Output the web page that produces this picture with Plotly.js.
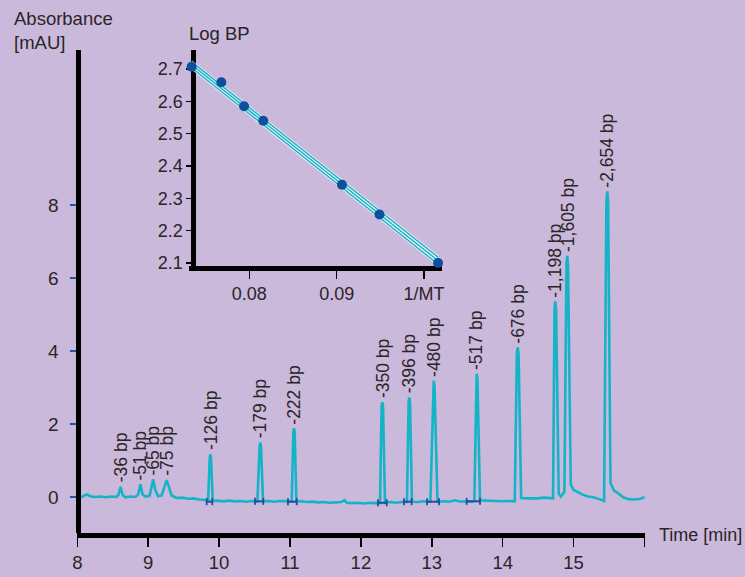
<!DOCTYPE html>
<html>
<head>
<meta charset="utf-8">
<script src="https://cdn.plot.ly/plotly-3.0.1.min.js"></script>
<style>
html, body { margin: 0; padding: 0; background: #cab9db; }
#chart { width: 745px; height: 577px; }
</style>
</head>
<body>
<div id="chart"></div>
<script>
// ---- Electropherogram trace (time in min, absorbance in mAU) ----
const timeMin = [
  8.00, 8.05, 8.10, 8.14, 8.18, 8.25, 8.32, 8.40, 8.48, 8.55,
  8.58, 8.61, 8.64, 8.68, 8.75, 8.82, 8.86, 8.89, 8.92, 8.96,
  9.02, 9.05, 9.07, 9.10, 9.14, 9.19, 9.22, 9.26, 9.29, 9.33,
  9.40, 9.48, 9.56, 9.64, 9.72, 9.80, 9.845, 9.868, 9.876, 9.886, 9.91,
  9.98, 10.06, 10.14, 10.22, 10.30, 10.38, 10.46, 10.54, 10.572, 10.581, 10.591, 10.62,
  10.70, 10.78, 10.86, 10.94, 11.025, 11.047, 11.056, 11.066, 11.09,
  11.16, 11.24, 11.32, 11.40, 11.48, 11.56, 11.64, 11.72, 11.77, 11.80,
  11.88, 11.96, 12.04, 12.12, 12.20, 12.27, 12.292, 12.302, 12.312, 12.34,
  12.42, 12.50, 12.58, 12.65, 12.673, 12.683, 12.693, 12.72,
  12.80, 12.88, 12.98, 13.016, 13.027, 13.038, 13.08,
  13.16, 13.24, 13.33, 13.40, 13.48, 13.56, 13.60, 13.623, 13.633, 13.644, 13.68,
  13.76, 13.84, 13.92, 14.00, 14.08, 14.17, 14.200, 14.212, 14.224, 14.26,
  14.34, 14.42, 14.50, 14.58, 14.64, 14.71, 14.731, 14.742, 14.753, 14.79,
  14.82, 14.87, 14.900, 14.911, 14.922, 14.96, 15.00, 15.05, 15.12, 15.20,
  15.28, 15.36, 15.43, 15.463, 15.475, 15.487, 15.52, 15.57, 15.62, 15.70,
  15.78, 15.86, 15.94, 16.00
];
const absorbance = [
  0.02, 0.00, 0.05, 0.08, 0.03, 0.01, 0.02, 0.00, 0.02, 0.01,
  0.06, 0.29, 0.06, 0.00, 0.02, 0.01, 0.08, 0.36, 0.08, 0.02,
  0.04, 0.30, 0.49, 0.20, 0.03, 0.05, 0.25, 0.47, 0.30, 0.05,
  -0.02, -0.01, -0.04, -0.03, -0.06, -0.07, -0.08, 1.08, 1.18, 1.06, -0.10,
  -0.09, -0.11, -0.09, -0.11, -0.10, -0.12, -0.10, -0.11, 1.42, 1.50, 1.40, -0.11,
  -0.10, -0.12, -0.10, -0.11, -0.11, 1.80, 1.89, 1.78, -0.12,
  -0.11, -0.13, -0.12, -0.14, -0.13, -0.15, -0.14, -0.13, -0.08, -0.15,
  -0.16, -0.15, -0.17, -0.15, -0.16, -0.16, 2.50, 2.60, 2.48, -0.15,
  -0.13, -0.15, -0.13, -0.13, 2.62, 2.73, 2.60, -0.12,
  -0.13, -0.11, -0.12, 3.05, 3.19, 3.05, -0.12,
  -0.11, -0.12, -0.08, -0.12, -0.11, -0.12, -0.10, 3.25, 3.38, 3.22, -0.08,
  -0.09, -0.10, -0.09, -0.11, -0.10, -0.11, 3.95, 4.10, 3.92, -0.02,
  -0.03, -0.04, -0.03, -0.01, -0.02, -0.03, 5.15, 5.36, 5.10, 0.10,
  0.02, 0.15, 6.40, 6.61, 6.30, 0.35, 0.20, 0.14, 0.08, 0.02,
  0.00, -0.05, -0.10, 8.10, 8.37, 8.10, 0.40, 0.18, 0.12, 0.00,
  -0.05, -0.06, -0.04, 0.00
];

// ---- Peak labels ----
const peakTime   = [8.61, 8.89, 9.07, 9.26, 9.876, 10.581, 11.056, 12.302, 12.683, 13.027, 13.633, 14.212, 14.742, 14.911, 15.475];
const peakHeight = [0.29, 0.36, 0.49, 0.47, 1.18, 1.50, 1.89, 2.60, 2.73, 3.19, 3.38, 4.10, 5.36, 6.61, 8.37];
const peakLabel  = ['-36 bp', '-51 bp', '-65 bp', '-75 bp', '-126 bp', '-179 bp', '-222 bp', '-350 bp', '-396 bp',
                    '-480 bp', '-517 bp', '-676 bp', '-1,198 bp', '-1,605 bp', '-2,654 bp'];

// ---- Integration baseline markers ----
const intStart = [9.825, 10.506, 10.971, 12.241, 12.608, 12.933, 13.492];
const intEnd   = [9.904, 10.623, 11.095, 12.364, 12.716, 13.102, 13.680];
const intLevel = [-0.12, -0.11, -0.12, -0.15, -0.12, -0.12, -0.11];

// ---- Inset: calibration Log BP vs 1/MT ----
const invMT = [0.0734, 0.0768, 0.0794, 0.0816, 0.0906, 0.0949, 0.1016];
const logBP = [2.707, 2.659, 2.585, 2.540, 2.342, 2.250, 2.100];
const fitX      = [0.0734, 0.0875, 0.1016];
const fitUpper  = [2.722, 2.419, 2.118];
const fitCenter = [2.713, 2.410, 2.107];
const fitLower  = [2.704, 2.401, 2.096];

// ---- Axis ticks ----
const xTicks = [8, 9, 10, 11, 12, 13, 14, 15, 16];
const xTickText = ['8', '9', '10', '11', '12', '13', '14', '15', ''];
const yTicks = [0, 2, 4, 6, 8];
const insetXTicks = [0.08, 0.09, 0.10];
const insetXTickText = ['0.08', '0.09', '1/MT'];
const insetYTicks = [2.1, 2.2, 2.3, 2.4, 2.5, 2.6, 2.7];

// ---- Styles ----
const BG = '#cab9db';
const CYAN = '#14b4c6';
const DARKBLUE = '#0d4f9c';
const TEXT = '#2a2527';
const FONT = 'Liberation Sans, Arial, Helvetica, sans-serif';

const intX = [], intY = [];
intStart.forEach((s, i) => { intX.push(s, intEnd[i], null); intY.push(intLevel[i], intLevel[i], null); });

const traces = [
  { x: timeMin, y: absorbance, type: 'scatter', mode: 'lines',
    line: { color: CYAN, width: 2.6 }, xaxis: 'x', yaxis: 'y', hoverinfo: 'skip' },
  { x: intX, y: intY, type: 'scatter', mode: 'lines+markers',
    line: { color: '#1f4f9a', width: 2 },
    marker: { symbol: 'line-ns', size: 5, line: { color: '#1f4f9a', width: 1.8 } },
    xaxis: 'x', yaxis: 'y', hoverinfo: 'skip' }
];
[fitUpper, fitCenter, fitLower].forEach(band => {
  traces.push({ x: fitX, y: band, type: 'scatter', mode: 'lines', line: { color: 'rgba(255,255,255,0.75)', width: 3 },
    xaxis: 'x2', yaxis: 'y2', hoverinfo: 'skip', cliponaxis: false });
});
[fitUpper, fitCenter, fitLower].forEach(band => {
  traces.push({ x: fitX, y: band, type: 'scatter', mode: 'lines', line: { color: CYAN, width: 1.4 },
    xaxis: 'x2', yaxis: 'y2', hoverinfo: 'skip', cliponaxis: false });
});
traces.push({ x: invMT, y: logBP, type: 'scatter', mode: 'markers',
  marker: { color: DARKBLUE, size: 10 }, xaxis: 'x2', yaxis: 'y2', cliponaxis: false, hoverinfo: 'skip' });

const annotations = peakLabel.map((t, i) => ({
  x: peakTime[i], y: peakHeight[i], xref: 'x', yref: 'y', text: t, showarrow: false,
  textangle: -90, xanchor: 'center', yanchor: 'bottom', yshift: 2,
  font: { family: FONT, size: 17.5, color: TEXT }
}));
annotations.push(
  { xref: 'paper', yref: 'paper', x: -0.1144, y: 1.092, xanchor: 'left', yanchor: 'top', align: 'left',
    text: 'Absorbance<br>[mAU]', showarrow: false, font: { family: FONT, size: 18.5, color: TEXT } },
  { xref: 'paper', yref: 'paper', x: 1.021, y: -0.004, xanchor: 'left', yanchor: 'middle',
    text: 'Time [min]', showarrow: false, font: { family: FONT, size: 18, color: TEXT } },
  { xref: 'paper', yref: 'paper', x: 0.194, y: 1.035, xanchor: 'left', yanchor: 'middle',
    text: 'Log BP', showarrow: false, font: { family: FONT, size: 18.5, color: TEXT } }
);

const layout = {
  width: 745, height: 577,
  margin: { l: 77, r: 100, t: 50, b: 44, pad: 0 },
  paper_bgcolor: BG, plot_bgcolor: BG,
  showlegend: false,
  font: { family: FONT, color: TEXT, size: 18 },
  xaxis: {
    domain: [0, 1], range: [7.9958, 16.007], anchor: 'y',
    showline: true, linecolor: '#000', linewidth: 5,
    showgrid: false, zeroline: false,
    tickmode: 'array', tickvals: xTicks, ticktext: xTickText,
    ticks: 'outside', ticklen: 9, tickwidth: 1.5, tickcolor: '#000',
    tickfont: { family: FONT, size: 18.5, color: TEXT }
  },
  yaxis: {
    domain: [0, 1], range: [-0.977, 12.24], anchor: 'free', position: 0.0023,
    showline: true, linecolor: '#000', linewidth: 5,
    showgrid: false, zeroline: false,
    tickmode: 'array', tickvals: yTicks,
    ticks: 'outside', ticklen: 6, tickwidth: 2, tickcolor: '#1c5a9c',
    ticklabelstandoff: 8,
    tickfont: { family: FONT, size: 19, color: TEXT }
  },
  xaxis2: {
    domain: [0.19718, 0.6426], range: [0.07310, 0.10205], anchor: 'y2',
    showline: true, linecolor: '#000', linewidth: 5, layer: 'below traces',
    showgrid: false, zeroline: false,
    tickmode: 'array', tickvals: insetXTicks, ticktext: insetXTickText,
    ticks: 'outside', ticklen: 8, tickwidth: 1.5, tickcolor: '#000',
    tickfont: { family: FONT, size: 18, color: TEXT }
  },
  yaxis2: {
    domain: [0.5532, 1], range: [2.0913, 2.7588], anchor: 'free', position: 0.20475,
    showline: true, linecolor: '#000', linewidth: 5, layer: 'below traces',
    showgrid: false, zeroline: false,
    tickmode: 'array', tickvals: insetYTicks, tickformat: '.1f',
    ticks: 'outside', ticklen: 5, tickwidth: 1.5, tickcolor: '#000',
    tickfont: { family: FONT, size: 18, color: TEXT }
  },
  annotations: annotations
};

Plotly.newPlot('chart', traces, layout, { staticPlot: true, displayModeBar: false });
</script>
</body>
</html>
